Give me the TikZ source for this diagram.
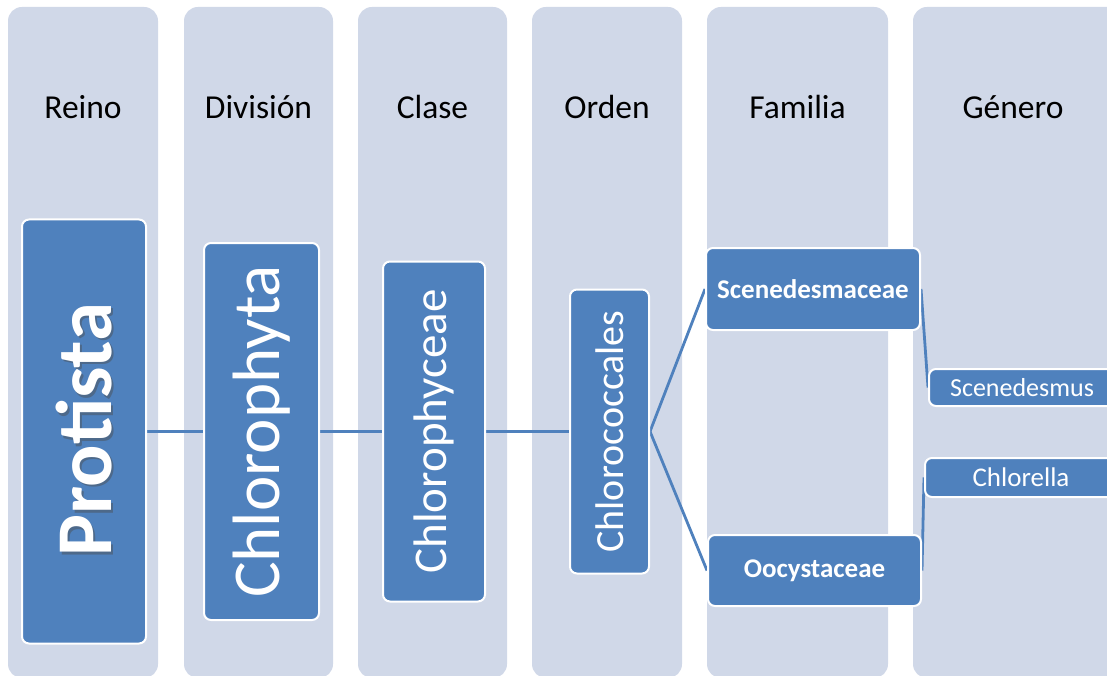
\documentclass[tikz,border=0pt]{standalone}
\usepackage{fontspec}
\setmainfont{Carlito}
\usetikzlibrary{positioning}
\definecolor{colbg}{HTML}{D0D8E8}
\definecolor{boxblue}{HTML}{4F81BD}
\pgfdeclarelayer{bg}
\pgfdeclarelayer{lines}
\pgfsetlayers{bg,lines,main}
\newcommand{\fs}[1]{\fontsize{#1}{#1}\selectfont}
\tikzset{
  colbox/.style={fill=colbg, draw=none, rounded corners=14pt},
  header/.style={text=black, inner sep=0pt, font=\fs{33.5}},
  taxbox/.style={fill=boxblue, draw=white, line width=2pt, rounded corners=7pt, text=white, inner sep=0pt, anchor=center},
  conn/.style={draw=boxblue, line width=2.8pt}
}
\begin{document}
\begin{tikzpicture}[x=1pt,y=-1pt]
\useasboundingbox (0,0) rectangle (1107,676);
\clip (0,0) rectangle (1107,676);
\begin{pgfonlayer}{bg}
\fill[white] (0,0) rectangle (1107,676);
\path[colbox] (8,7) rectangle (158,678);
\path[colbox] (184,7) rectangle (333,678);
\path[colbox] (358,7) rectangle (507,678);
\path[colbox] (532,7) rectangle (682,678);
\path[colbox] (707,7) rectangle (888,678);
\path[colbox] (913,7) rectangle (1125,678);
\end{pgfonlayer}
% headers
\node[header] (hreino) at (83,107) {Reino};
\node[header] (hdiv) at (258.5,107) {División};
\node[header] (hclase) at (432.5,107) {Clase};
\node[header] (horden) at (607,107) {Orden};
\node[header] (hfam) at (797.5,107) {Familia};
\node[header] (hgen) at (1013,107) {Género};
% taxonomy boxes
\node[taxbox, minimum width=124pt, minimum height=424pt] (protista) at (84,431.5) {};
\node[text=black!70, opacity=0.45, font=\fs{79}\bfseries, inner sep=0pt] (protshadow) at (86.5,432) {\rotatebox{90}{Protista}};
\node[text=white, font=\fs{79}\bfseries, inner sep=0pt] (protlabel) at (84,429.5) {\rotatebox{90}{Protista}};
\node[taxbox, minimum width=115pt, minimum height=377pt, font=\fs{67}] (chlorophyta) at (261.5,431.5) {\rotatebox{90}{Chlorophyta}};
\node[taxbox, minimum width=102pt, minimum height=340pt, font=\fs{47}] (chlorophyceae) at (434,431.5) {\rotatebox{90}{Chlorophyceae}};
\node[taxbox, minimum width=79pt, minimum height=284pt, font=\fs{40}] (chlorococcales) at (609.5,431.5) {\rotatebox{90}{Chlorococcales}};
\node[taxbox, minimum width=214pt, minimum height=82pt, font=\fs{27}\bfseries] (scenedesmaceae) at (813,289) {Scenedesmaceae};
\node[taxbox, minimum width=213pt, minimum height=71pt, font=\fs{27}\bfseries] (oocystaceae) at (814.5,570.5) {Oocystaceae};
\node[taxbox, minimum width=195pt, minimum height=37pt, font=\fs{26}] (scenedesmus) at (1026.5,387.5) {\hspace*{-9pt}Scenedesmus};
\node[taxbox, minimum width=200pt, minimum height=39pt, font=\fs{27}] (chlorella) at (1025,477.5) {\hspace*{-8pt}Chlorella};
% connectors
\begin{pgfonlayer}{lines}
\draw[conn] (protista.east) -- (chlorophyta.west);
\draw[conn] (chlorophyta.east) -- (chlorophyceae.west);
\draw[conn] (chlorophyceae.east) -- (chlorococcales.west);
\draw[conn] (chlorococcales.east) -- (scenedesmaceae.west);
\draw[conn] (chlorococcales.east) -- (oocystaceae.west);
\draw[conn] (scenedesmaceae.east) -- (scenedesmus.west);
\draw[conn] (oocystaceae.east) -- (chlorella.west);
\end{pgfonlayer}
\end{tikzpicture}
\end{document}
